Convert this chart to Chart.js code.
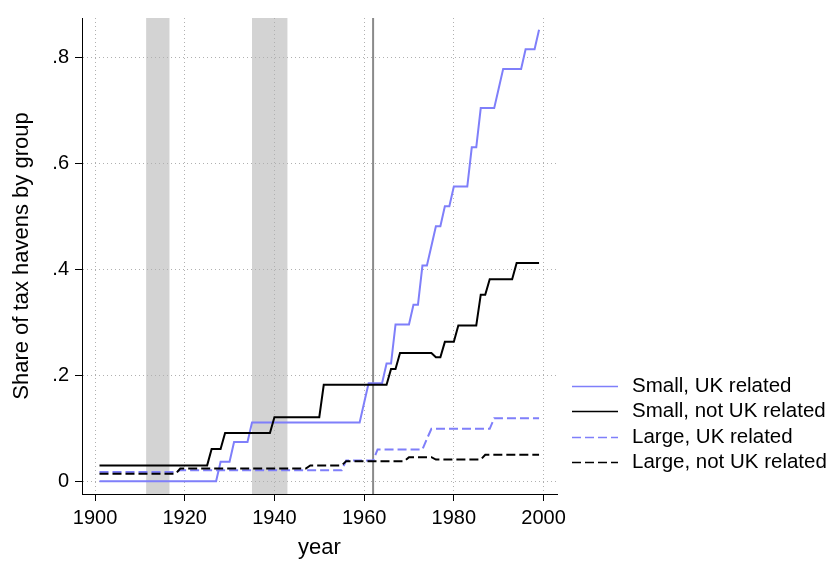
<!DOCTYPE html>
<html><head><meta charset="utf-8">
<script src="https://cdn.jsdelivr.net/npm/chart.js@4.4.1/dist/chart.umd.min.js"></script>
<style>html,body{margin:0;padding:0;background:#fff;}canvas{display:block;}</style>
</head><body>
<canvas id="c" width="832" height="561"></canvas>
<script>
const years = [
 1901,1902,1903,1904,1905,1906,1907,1908,1909,1910,
 1911,1912,1913,1914,1915,1916,1917,1918,1919,1920,
 1921,1922,1923,1924,1925,1926,1927,1928,1929,1930,
 1931,1932,1933,1934,1935,1936,1937,1938,1939,1940,
 1941,1942,1943,1944,1945,1946,1947,1948,1949,1950,
 1951,1952,1953,1954,1955,1956,1957,1958,1959,1960,
 1961,1962,1963,1964,1965,1966,1967,1968,1969,1970,
 1971,1972,1973,1974,1975,1976,1977,1978,1979,1980,
 1981,1982,1983,1984,1985,1986,1987,1988,1989,1990,
 1991,1992,1993,1994,1995,1996,1997,1998,1999];
const smallUK = [
 0,0,0,0,0,0,0,0,0,0,
 0,0,0,0,0,0,0,0,0,0,
 0,0,0,0,0,0,0,.037,.037,.037,
 .074,.074,.074,.074,.111,.111,.111,.111,.111,.111,
 .111,.111,.111,.111,.111,.111,.111,.111,.111,.111,
 .111,.111,.111,.111,.111,.111,.111,.111,.111,.148,
 .185,.185,.185,.185,.222,.222,.296,.296,.296,.296,
 .333,.333,.407,.407,.444,.481,.481,.519,.519,.556,
 .556,.556,.556,.630,.630,.704,.704,.704,.704,.741,
 .778,.778,.778,.778,.778,.815,.815,.815,.852];
const smallNotUK = [
 .030,.030,.030,.030,.030,.030,.030,.030,.030,.030,
 .030,.030,.030,.030,.030,.030,.030,.030,.030,.030,
 .030,.030,.030,.030,.030,.061,.061,.061,.091,.091,
 .091,.091,.091,.091,.091,.091,.091,.091,.091,.121,
 .121,.121,.121,.121,.121,.121,.121,.121,.121,.121,
 .182,.182,.182,.182,.182,.182,.182,.182,.182,.182,
 .182,.182,.182,.182,.182,.212,.212,.242,.242,.242,
 .242,.242,.242,.242,.242,.234,.234,.263,.263,.263,
 .294,.294,.294,.294,.294,.352,.352,.381,.381,.381,
 .381,.381,.381,.412,.412,.412,.412,.412,.412];
const largeUK = [
 .0175,.0175,.0175,.0175,.0175,.0175,.0175,.0175,.0175,.0175,
 .0175,.0175,.0175,.0175,.0175,.0175,.0175,.0175,.021,.021,
 .021,.021,.021,.021,.021,.021,.021,.021,.021,.021,
 .021,.021,.021,.021,.021,.021,.021,.021,.021,.021,
 .021,.021,.021,.021,.021,.021,.021,.021,.021,.021,
 .021,.021,.021,.021,.021,.039,.039,.039,.039,.039,
 .039,.039,.060,.060,.060,.060,.060,.060,.060,.060,
 .060,.060,.060,.080,.099,.099,.099,.099,.099,.099,
 .099,.099,.099,.099,.099,.099,.099,.099,.119,.119,
 .119,.119,.119,.119,.119,.119,.119,.119,.119];
const largeNotUK = [
 .0144,.0144,.0144,.0144,.0144,.0144,.0144,.0144,.0144,.0144,
 .0144,.0144,.0144,.0144,.0144,.0144,.0144,.0144,.024,.024,
 .024,.024,.024,.024,.024,.024,.024,.024,.024,.024,
 .024,.024,.024,.024,.024,.024,.024,.024,.024,.024,
 .024,.024,.024,.024,.024,.024,.024,.030,.030,.030,
 .030,.030,.030,.030,.030,.038,.038,.038,.038,.038,
 .038,.038,.038,.038,.038,.038,.038,.038,.038,.0455,
 .0455,.0455,.0455,.0455,.0455,.041,.041,.041,.041,.041,
 .041,.041,.041,.041,.041,.041,.050,.050,.050,.050,
 .050,.050,.050,.050,.050,.050,.050,.050,.050];
const seriesNames = ['Small, UK related','Small, not UK related','Large, UK related','Large, not UK related'];
const xTicks = [1900,1920,1940,1960,1980,2000];
const xTickLabels = ['1900','1920','1940','1960','1980','2000'];
const yTicks = [0,0.2,0.4,0.6,0.8];
const yTickLabels = ['0','.2','.4','.6','.8'];
const warBands = [[1911.4,1916.6],[1935.0,1942.9]];
const refYears = [1962];
const xTitle = 'year';
const yTitle = 'Share of tax havens by group';

const FONT = 'Liberation Sans';
const BLUE = '#7f7ffa';
const toPts = arr => years.map((yr,i) => ({x: yr, y: arr[i]}));

const bandsPlugin = {
  id: 'bands',
  beforeDraw(chart) {
    const {ctx, chartArea: {top, bottom}, scales: {x}} = chart;
    ctx.save();
    ctx.fillStyle = '#d3d3d3';
    warBands.forEach(([a, b]) => {
      const x1 = x.getPixelForValue(a), x2 = x.getPixelForValue(b);
      ctx.fillRect(x1, top, x2 - x1, bottom - top);
    });
    ctx.restore();
  },
  beforeDatasetsDraw(chart) {
    const {ctx, chartArea: {top, bottom}, scales: {x}} = chart;
    ctx.save();
    ctx.strokeStyle = '#8a8a8a';
    ctx.lineWidth = 2;
    refYears.forEach(v => {
      const px = x.getPixelForValue(v);
      ctx.beginPath(); ctx.moveTo(px, top); ctx.lineTo(px, bottom); ctx.stroke();
    });
    ctx.restore();
  }
};

const legendPlugin = {
  id: 'sideLegend',
  afterDraw(chart) {
    const {ctx, chartArea} = chart;
    const x0 = chartArea.right + 15;
    const y0 = chartArea.top + 368;
    ctx.save();
    ctx.font = '20.5px "' + FONT + '"';
    ctx.textBaseline = 'middle';
    ctx.textAlign = 'left';
    chart.data.datasets.forEach((ds, i) => {
      const y = Math.round(y0 + i * 25.3) + 0.5;
      ctx.strokeStyle = ds.borderColor;
      ctx.lineWidth = 1.5;
      ctx.setLineDash(ds.borderDash || []);
      ctx.beginPath(); ctx.moveTo(x0, y); ctx.lineTo(x0 + 46, y); ctx.stroke();
      ctx.setLineDash([]);
      ctx.fillStyle = '#000';
      ctx.fillText(ds.label, x0 + 60, y);
    });
    ctx.restore();
  }
};

const gridCommon = {color: '#b0b0b0', lineWidth: 1, drawTicks: true, tickLength: 7, tickColor: '#000', tickWidth: 1};
const borderCommon = {display: true, color: '#000', width: 1, dash: [1, 3]};

new Chart(document.getElementById('c'), {
  type: 'line',
  data: {
    datasets: [
      {label: seriesNames[0], data: toPts(smallUK), borderColor: BLUE, borderWidth: 2, borderDash: [], order: 4},
      {label: seriesNames[1], data: toPts(smallNotUK), borderColor: '#000', borderWidth: 2, borderDash: [], order: 3},
      {label: seriesNames[2], data: toPts(largeUK), borderColor: BLUE, borderWidth: 2, borderDash: [9, 4], order: 2},
      {label: seriesNames[3], data: toPts(largeNotUK), borderColor: '#000', borderWidth: 2, borderDash: [9, 4], order: 1}
    ]
  },
  options: {
    responsive: false,
    animation: false,
    events: [],
    layout: {padding: {top: 15, right: 275, left: 0, bottom: 0}},
    elements: {point: {radius: 0}, line: {tension: 0, fill: false}},
    plugins: {legend: {display: false}, tooltip: {enabled: false}},
    scales: {
      x: {
        type: 'linear', min: 1897.1, max: 2003.0,
        afterBuildTicks: s => { s.ticks = xTicks.map(v => ({value: v})); },
        afterFit: s => { s.height = 67; },
        ticks: {font: {family: FONT, size: 20}, color: '#000', padding: 5, maxRotation: 0, autoSkip: false,
                callback: (v) => xTickLabels[xTicks.indexOf(v)]},
        grid: gridCommon, border: borderCommon,
        title: {display: true, text: xTitle, font: {family: FONT, size: 22}, color: '#000', padding: {top: 0, bottom: 0}}
      },
      y: {
        type: 'linear', min: -0.024, max: 0.874,
        afterBuildTicks: s => { s.ticks = yTicks.map(v => ({value: v})); },
        afterFit: s => { s.width = 82; },
        ticks: {font: {family: FONT, size: 20}, color: '#000', padding: 6,
                callback: (v) => yTickLabels[yTicks.indexOf(v)]},
        grid: gridCommon, border: borderCommon,
        title: {display: true, text: yTitle, font: {family: FONT, size: 22}, color: '#000', padding: {top: 9, bottom: 0}}
      }
    }
  },
  plugins: [bandsPlugin, legendPlugin]
});
</script>
</body></html>
